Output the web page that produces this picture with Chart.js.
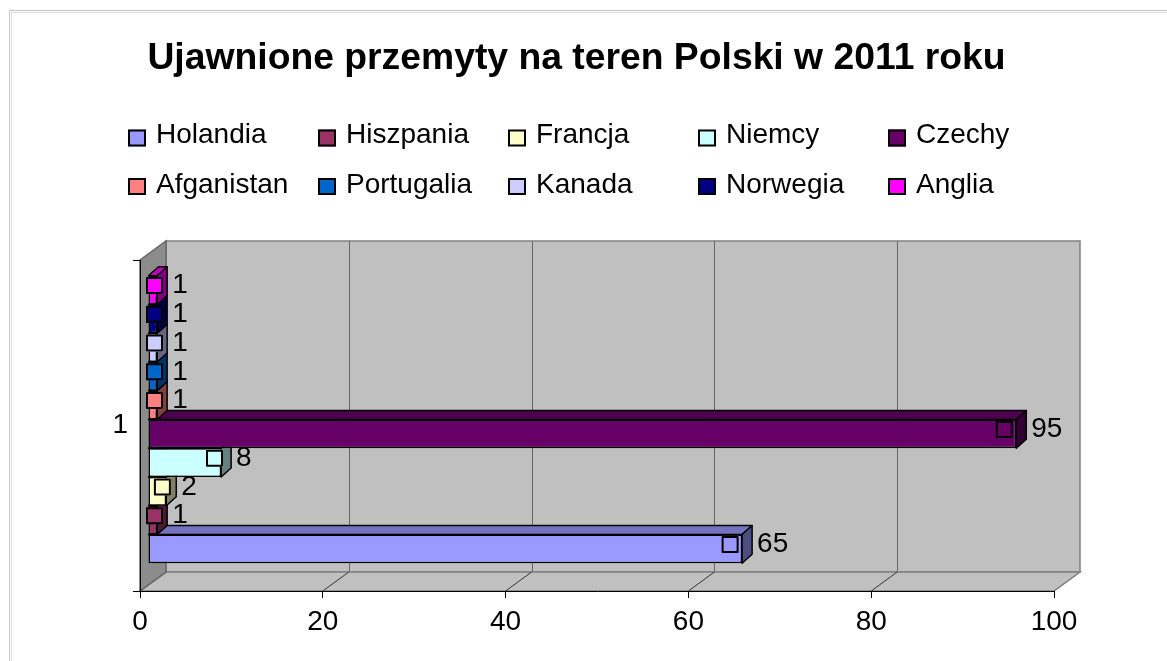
<!DOCTYPE html>
<html><head><meta charset="utf-8">
<script src="https://cdn.jsdelivr.net/npm/chart.js@4.4.1/dist/chart.umd.min.js"></script>
<style>html,body{margin:0;padding:0;background:#fff}canvas{display:block}</style>
</head><body>
<canvas id="c" width="1167" height="661"></canvas>
<script>
const chartTitle = 'Ujawnione przemyty na teren Polski w 2011 roku';
const categories = ['1'];
const seriesNames = ['Holandia','Hiszpania','Francja','Niemcy','Czechy','Afganistan','Portugalia','Kanada','Norwegia','Anglia'];
const seriesValues = [65, 1, 2, 8, 95, 1, 1, 1, 1, 1];
const seriesColors = ['#9999FF','#993366','#FFFFCC','#CCFFFF','#660066','#FF8080','#0066CC','#CCCCFF','#000080','#FF00FF'];
const xMin = 0, xMax = 100, xStep = 20;

const FONT = "'Liberation Sans', Arial, sans-serif";
const WALL = {x: 26, y: -19};
const BAR_SHIFT = {x: 8, y: -6};
const BAR_DEPTH = {x: 10, y: -9};

function shade(hex, f) {
  const n = parseInt(hex.slice(1), 16);
  const r = (n >> 16) & 255, g = (n >> 8) & 255, b = n & 255;
  return `rgb(${Math.round(r*f)},${Math.round(g*f)},${Math.round(b*f)})`;
}
function poly(ctx, pts, fill, stroke, lw) {
  ctx.beginPath();
  ctx.moveTo(pts[0][0], pts[0][1]);
  for (let i = 1; i < pts.length; i++) ctx.lineTo(pts[i][0], pts[i][1]);
  ctx.closePath();
  if (fill) { ctx.fillStyle = fill; ctx.fill(); }
  if (stroke) { ctx.strokeStyle = stroke; ctx.lineWidth = lw || 1; ctx.stroke(); }
}

const framePlugin = {
  id: 'frame3d',
  beforeDraw(chart) {
    const ctx = chart.ctx;
    const {top, bottom} = chart.chartArea;
    const xs = chart.scales.x;
    ctx.save();
    ctx.fillStyle = '#fff';
    ctx.fillRect(0, 0, chart.width, chart.height);
    // outer border (cropped at right/bottom)
    ctx.strokeStyle = '#c8c8c8'; ctx.lineWidth = 1;
    ctx.strokeRect(9.5, 10.5, chart.width + 20, chart.height + 20);
    ctx.strokeStyle = '#dcdcdc';
    ctx.strokeRect(11.5, 12.5, chart.width + 20, chart.height + 20);
    // title
    ctx.fillStyle = '#000';
    ctx.font = 'bold 37.3px ' + FONT;
    ctx.textAlign = 'center'; ctx.textBaseline = 'middle';
    ctx.fillText(chartTitle, 576.5, 59);
    // legend
    ctx.font = '28px ' + FONT;
    ctx.textAlign = 'left';
    const rowBox = [138, 186.5], rowText = [135.5, 185.5];
    seriesNames.forEach((name, i) => {
      const col = i % 5, row = Math.floor(i / 5);
      const bx = 128 + 190 * col, cy = rowBox[row];
      ctx.fillStyle = seriesColors[i];
      ctx.fillRect(bx, cy - 8.5, 18, 17);
      ctx.strokeStyle = '#000'; ctx.lineWidth = 2;
      ctx.strokeRect(bx + 1, cy - 7.5, 16, 15);
      ctx.fillStyle = '#000';
      ctx.fillText(name, bx + 28, rowText[row]);
    });
    // walls
    const x0 = xs.getPixelForValue(xMin), x1 = xs.getPixelForValue(xMax);
    const dx = WALL.x, dy = WALL.y;
    ctx.fillStyle = '#c0c0c0';
    ctx.fillRect(x0 + dx, top + dy, x1 - x0, bottom - top);
    xs.ticks.forEach(t => {
      if (t.value === xMin || t.value === xMax) return;
      const px = Math.round(xs.getPixelForValue(t.value)) + 0.5;
      ctx.strokeStyle = '#666'; ctx.lineWidth = 1;
      ctx.beginPath(); ctx.moveTo(px + dx, top + dy); ctx.lineTo(px + dx, bottom + dy); ctx.stroke();
    });
    ctx.strokeStyle = '#808080'; ctx.lineWidth = 1.5;
    ctx.strokeRect(x0 + dx, top + dy, x1 - x0, bottom - top);
    poly(ctx, [[x0, bottom], [x1, bottom], [x1 + dx, bottom + dy], [x0 + dx, bottom + dy]], '#c0c0c0', '#808080', 1.5);
    xs.ticks.forEach(t => {
      if (t.value === xMin) return;
      const px = xs.getPixelForValue(t.value);
      ctx.strokeStyle = t.value === xMax ? '#808080' : '#333'; ctx.lineWidth = 1;
      ctx.beginPath(); ctx.moveTo(px, bottom); ctx.lineTo(px + dx, bottom + dy); ctx.stroke();
    });
    poly(ctx, [[x0, top], [x0 + dx, top + dy], [x0 + dx, bottom + dy], [x0, bottom]], '#8c8c8c', '#666', 1.5);
    ctx.restore();
  }
};

const barPlugin = {
  id: 'bars3d',
  beforeDatasetsDraw(chart) {
    chart.ctx.save();
    chart.ctx.translate(BAR_SHIFT.x, BAR_SHIFT.y);
  },
  afterDatasetDraw(chart, args) {
    const ctx = chart.ctx;
    const ds = chart.data.datasets[args.index];
    const color = ds.backgroundColor;
    args.meta.data.forEach((el, j) => {
      const p = el.getProps(['x', 'y', 'base', 'height'], true);
      const a = p.base, b = p.x, yT = p.y - p.height / 2, yB = p.y + p.height / 2;
      const bdx = BAR_DEPTH.x, bdy = BAR_DEPTH.y;
      ctx.save();
      ctx.lineJoin = 'round';
      poly(ctx, [[a, yT], [b, yT], [b + bdx, yT + bdy], [a + bdx, yT + bdy]], shade(color, 0.75), '#000', 1.5);
      poly(ctx, [[b, yT], [b + bdx, yT + bdy], [b + bdx, yB + bdy], [b, yB]], shade(color, 0.5), '#000', 1.5);
      // legend key marker
      const inset = Math.min(12, 3 + 0.05 * (b - a));
      const mx = Math.max(b - inset, a + 6), my = p.y - 4.5;
      ctx.fillStyle = color;
      ctx.fillRect(mx - 8.5, my - 8.5, 17, 17);
      ctx.strokeStyle = '#000'; ctx.lineWidth = 2;
      ctx.strokeRect(mx - 7.5, my - 7.5, 15, 15);
      // value label
      ctx.fillStyle = '#000';
      ctx.font = '28px ' + FONT;
      ctx.textAlign = 'left'; ctx.textBaseline = 'middle';
      ctx.fillText(String(ds.data[j]), b + 15, my);
      ctx.restore();
    });
  },
  afterDatasetsDraw(chart) {
    chart.ctx.restore();
  }
};

const datasets = seriesNames.map((name, i) => ({
  label: name,
  data: [seriesValues[i]],
  backgroundColor: seriesColors[i],
  borderColor: '#000',
  borderWidth: 1.5,
  borderSkipped: false,
  categoryPercentage: 0.8686,
  barPercentage: 1,
  clip: false
})).reverse();

new Chart(document.getElementById('c'), {
  type: 'bar',
  data: { labels: categories, datasets },
  plugins: [framePlugin, barPlugin],
  options: {
    indexAxis: 'y',
    responsive: false,
    devicePixelRatio: 1,
    animation: false,
    layout: { padding: { top: 260, right: 113, bottom: 0, left: 0 } },
    plugins: { legend: { display: false }, title: { display: false }, tooltip: { enabled: false } },
    scales: {
      x: {
        type: 'linear', min: xMin, max: xMax,
        ticks: { stepSize: xStep, color: '#000', font: { size: 28, family: FONT }, padding: 7, maxRotation: 0 },
        grid: { display: true, drawOnChartArea: false, color: '#000', tickLength: 7 },
        border: { display: true, color: '#000', width: 1 },
        afterFit(s) { s.height = 70; }
      },
      y: {
        type: 'category', offset: true,
        ticks: { color: '#000', font: { size: 28, family: FONT }, padding: 5 },
        grid: { display: true, drawOnChartArea: false, color: '#000', tickLength: 7, offset: true },
        border: { display: true, color: '#000', width: 1 },
        afterFit(s) { s.width = 140; }
      }
    }
  }
});
</script>
</body></html>
